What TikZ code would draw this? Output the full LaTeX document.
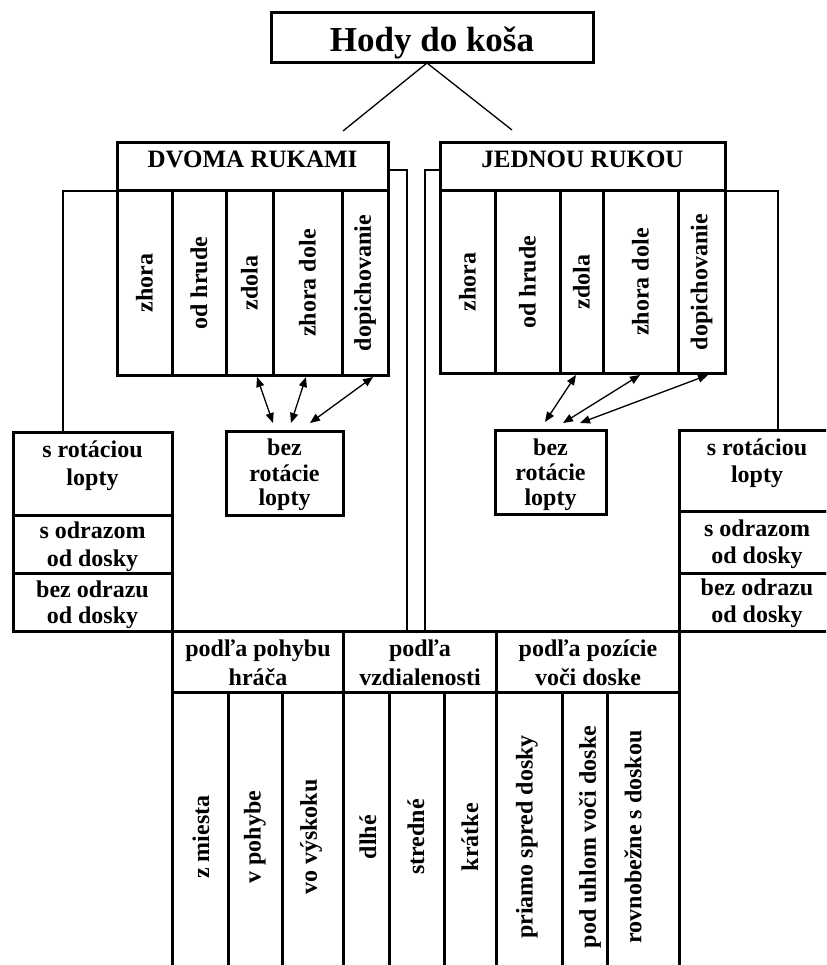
\documentclass[tikz,border=0pt]{standalone}
\usepackage{fontspec}
\setmainfont{Liberation Serif}
\usetikzlibrary{arrows.meta}
\newcommand\rbox[5]{\node[box, minimum width=#4pt-#2pt, minimum height=#5pt-#3pt] (#1) at ({(#2+#4)/2},{(#3+#5)/2}) {};}
\tikzset{
  box/.style={draw, line width=3pt, inner sep=0pt, outer sep=0pt},
  thinl/.style={line width=1.3pt},
  framel/.style={line width=2.4pt},
  arr/.style={line width=1.3pt, {Triangle[length=10pt,width=8pt]}-{Triangle[length=10pt,width=8pt]}},
  lbl/.style={font=\fontsize{24}{28}\selectfont\bfseries, inner sep=0pt, anchor=base},
  hlbl/.style={font=\fontsize{25}{29}\selectfont\bfseries, inner sep=0pt, anchor=base},
  vlbl/.style={font=\fontsize{24}{28}\selectfont\bfseries, inner sep=0pt, rotate=90},
}
\begin{document}
\begin{tikzpicture}[x=1pt,y=-1pt]
\useasboundingbox (0,0) rectangle (826,965);
\fill[white] (0,0) rectangle (826,965);
\clip (0,0) rectangle (826,965);

% title
\rbox{title}{271}{13}{593}{63}
\node[anchor=base, inner sep=0pt, font=\fontsize{35}{40}\selectfont\bfseries] (ttxt) at (432,52) {Hody do koša};
\coordinate (tl) at (343,131);
\coordinate (tr) at (512,130);
\draw[thinl] (tl) -- ([xshift=-5pt]title.south) -- (tr);

% headers
\rbox{hdL}{117}{143}{388}{191}
\rbox{hdR}{440}{143}{725}{191}
\node[hlbl] (hdLt) at (252.5,168) {DVOMA RUKAMI};
\node[hlbl] (hdRt) at (582.5,168) {JEDNOU RUKOU};

% left columns
\rbox{cL1}{117}{191}{172}{375}
\rbox{cL2}{172}{191}{226}{375}
\rbox{cL3}{226}{191}{273}{375}
\rbox{cL4}{273}{191}{342}{375}
\rbox{cL5}{342}{191}{388}{375}
\node[vlbl] (cL1t) at (cL1) {zhora};
\node[vlbl] (cL2t) at (cL2) {od hrude};
\node[vlbl] (cL3t) at (cL3) {zdola};
\node[vlbl] (cL4t) at (cL4) {zhora dole};
\node[vlbl] (cL5t) at (cL5) {dopichovanie};

% right columns
\rbox{cR1}{440}{191}{495}{373}
\rbox{cR2}{495}{191}{560}{373}
\rbox{cR3}{560}{191}{603}{373}
\rbox{cR4}{603}{191}{678}{373}
\rbox{cR5}{678}{191}{725}{373}
\node[vlbl] (cR1t) at (cR1) {zhora};
\node[vlbl] (cR2t) at (cR2) {od hrude};
\node[vlbl] (cR3t) at (cR3) {zdola};
\node[vlbl] (cR4t) at (cR4) {zhora dole};
\node[vlbl] (cR5t) at (cR5) {dopichovanie};

% side boxes
\rbox{sL1}{13}{432}{172.5}{515}
\rbox{sL2}{13}{515}{172.5}{573}
\rbox{sL3}{13}{573}{172.5}{631}
\rbox{sR1}{679.5}{430}{840}{511}
\rbox{sR2}{679.5}{511}{840}{573}
\rbox{sR3}{679.5}{573}{840}{631}
\node[lbl] (sL1a) at (92.5,457) {s rotáciou};
\node[lbl] (sL1b) at (92.5,485) {lopty};
\node[lbl] (sL2a) at (92.5,538) {s odrazom};
\node[lbl] (sL2b) at (92.5,566) {od dosky};
\node[lbl] (sL3a) at (92.5,597) {bez odrazu};
\node[lbl] (sL3b) at (92.5,623) {od dosky};
\node[lbl] (sR1a) at (757,455) {s rotáciou};
\node[lbl] (sR1b) at (757,482) {lopty};
\node[lbl] (sR2a) at (757,536) {s odrazom};
\node[lbl] (sR2b) at (757,563) {od dosky};
\node[lbl] (sR3a) at (757,595) {bez odrazu};
\node[lbl] (sR3b) at (757,622) {od dosky};

% frame connectors
\coordinate (fL) at (63,432);
\coordinate (fR) at (778,430);
\draw[framel] (cL1.north west) -| (fL);
\draw[framel] (cR5.north east) -| (fR);

% T connectors
\coordinate (tTL) at (407,631);
\coordinate (tTR) at (425,631);
\draw[thinl] ([yshift=-3pt]hdL.east) -| (tTL);
\draw[thinl] ([yshift=-3pt]hdR.west) -| (tTR);

% bez rotacie boxes
\rbox{bL}{226}{431}{343}{515}
\rbox{bR}{495}{430}{606}{514}
\node[lbl] (bLa) at (284.5,455) {bez};
\node[lbl] (bLb) at (284.5,481) {rotácie};
\node[lbl] (bLc) at (284.5,505) {lopty};
\node[lbl] (bRa) at (550.5,455) {bez};
\node[lbl] (bRb) at (550.5,480) {rotácie};
\node[lbl] (bRc) at (550.5,505) {lopty};

% arrows
\coordinate (aL1t) at (257,377); \coordinate (aL1b) at (273,423);
\coordinate (aL2t) at (306,377); \coordinate (aL2b) at (291,423);
\coordinate (aL3t) at (373,377); \coordinate (aL3b) at (310,423);
\coordinate (aR1t) at (576,375); \coordinate (aR1b) at (545,422);
\coordinate (aR2t) at (640,375); \coordinate (aR2b) at (563,423);
\coordinate (aR3t) at (708,375); \coordinate (aR3b) at (580,423);
\foreach \a in {L1,L2,L3,R1,R2,R3} {\draw[arr] (a\a t) -- (a\a b);}

% bottom table headers
\rbox{bH1}{172.5}{631}{343}{692}
\rbox{bH2}{343}{631}{496}{692}
\rbox{bH3}{496}{631}{679.5}{692}
\node[lbl] (bH1a) at (258,656) {podľa pohybu};
\node[lbl] (bH1b) at (258,685) {hráča};
\node[lbl] (bH2a) at (420,656) {podľa};
\node[lbl] (bH2b) at (420,685) {vzdialenosti};
\node[lbl] (bH3a) at (588,656) {podľa pozície};
\node[lbl] (bH3b) at (588,685) {voči doske};

% bottom columns
\rbox{cB1}{172.5}{692}{228}{985}
\rbox{cB2}{228}{692}{282}{985}
\rbox{cB3}{282}{692}{343}{985}
\rbox{cB4}{343}{692}{389}{985}
\rbox{cB5}{389}{692}{444}{985}
\rbox{cB6}{444}{692}{496}{985}
\rbox{cB7}{496}{692}{562}{985}
\rbox{cB8}{562}{692}{607}{985}
\rbox{cB9}{607}{692}{679.5}{985}
\node[vlbl] (cB1t) at (201,837) {z miesta};
\node[vlbl] (cB2t) at (255,837) {v pohybe};
\node[vlbl] (cB3t) at (311,837) {vo výskoku};
\node[vlbl] (cB4t) at (368,837) {dlhé};
\node[vlbl] (cB5t) at (416,837) {stredné};
\node[vlbl] (cB6t) at (470,837) {krátke};
\node[vlbl] (cB7t) at (527,837) {priamo spred dosky};
\node[vlbl] (cB8t) at (590,837) {pod uhlom voči doske};
\node[vlbl] (cB9t) at (633,837) {rovnobežne s doskou};
\end{tikzpicture}
\end{document}
